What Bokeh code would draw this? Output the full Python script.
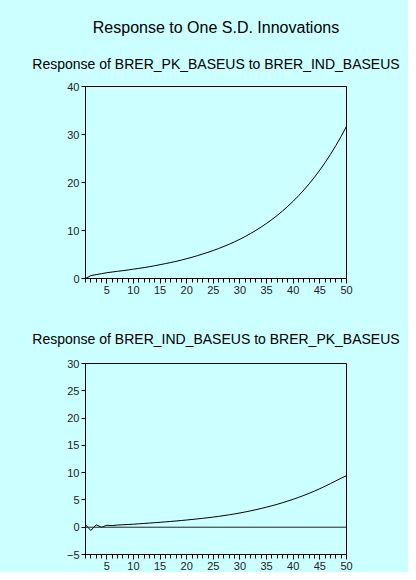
from bokeh.plotting import figure
from bokeh.models import Range1d, FixedTicker, Title, Span, ColumnDataSource
from bokeh.layouts import column
from bokeh.embed import file_html
from bokeh.resources import INLINE

# ---- data ----
periods = list(range(1, 51))

pk_to_ind = [0.00, 0.60, 0.80, 1.00, 1.20, 1.35, 1.50, 1.63, 1.78, 1.95,
             2.10, 2.27, 2.46, 2.66, 2.88, 3.10, 3.33, 3.57, 3.84, 4.13,
             4.43, 4.75, 5.10, 5.46, 5.84, 6.25, 6.69, 7.15, 7.65, 8.19,
             8.76, 9.38, 10.03, 10.74, 11.49, 12.29, 13.15, 14.07, 15.06, 16.11,
             17.24, 18.45, 19.74, 21.12, 22.60, 24.18, 25.88, 27.69, 29.63, 31.70]

ind_to_pk = [0.45, -0.60, 0.45, 0.00, 0.35, 0.30, 0.40, 0.45, 0.50, 0.55,
             0.62, 0.69, 0.76, 0.83, 0.90, 0.98, 1.06, 1.14, 1.23, 1.32,
             1.42, 1.52, 1.63, 1.74, 1.86, 1.99, 2.13, 2.28, 2.44, 2.61,
             2.80, 3.00, 3.21, 3.44, 3.68, 3.93, 4.20, 4.49, 4.80, 5.13,
             5.47, 5.83, 6.22, 6.63, 7.06, 7.52, 8.00, 8.50, 8.98, 9.45]

main_title = "Response to One S.D. Innovations"
panel_titles = ["Response of BRER_PK_BASEUS to BRER_IND_BASEUS",
                "Response of BRER_IND_BASEUS to BRER_PK_BASEUS"]
top_yticks = [0, 10, 20, 30, 40]
bottom_yticks = [-5, 0, 5, 10, 15, 20, 25, 30]
xticks = [5, 10, 15, 20, 25, 30, 35, 40, 45, 50]

BG = "#CCFFFF"
FONT = "Liberation Sans"


def make_panel(values, yr, yticks, height, top, bottom, zero_line):
    p = figure(width=408, height=height,
               x_range=Range1d(periods[0], periods[-1]), y_range=Range1d(*yr),
               output_backend="svg", toolbar_location=None,
               min_border_left=85, min_border_right=62,
               min_border_top=top, min_border_bottom=bottom,
               background_fill_color=BG, border_fill_color=BG,
               outline_line_color="black", outline_line_width=1)
    p.xgrid.visible = False
    p.ygrid.visible = False

    src = ColumnDataSource(data=dict(x=periods, y=values))
    if zero_line:
        p.add_layout(Span(location=0, dimension="width", line_color="#222222", line_width=1))
    p.line("x", "y", source=src, line_color="black", line_width=1)

    for ax in (p.xaxis[0], p.yaxis[0]):
        ax.axis_line_color = "black"
        ax.major_tick_line_color = "black"
        ax.minor_tick_line_color = "black"
        ax.major_tick_in = 0
        ax.minor_tick_in = 0
        ax.major_label_text_font = FONT
        ax.major_label_text_font_size = "11px"
        ax.major_label_text_color = "#222222"
        ax.major_label_standoff = 2
    p.xaxis[0].ticker = FixedTicker(ticks=xticks, minor_ticks=periods)
    p.xaxis[0].major_tick_out = 5
    p.xaxis[0].minor_tick_out = 4
    p.yaxis[0].ticker = FixedTicker(ticks=yticks, minor_ticks=[])
    p.yaxis[0].major_tick_out = 4
    return p


def style_title(t, size, standoff):
    t.text_font = FONT
    t.text_font_size = size
    t.text_font_style = "normal"
    t.text_color = "black"
    t.align = "center"
    t.standoff = standoff


# top panel: main title outermost, panel title next to the frame
p1 = make_panel(pk_to_ind, (0, 40), top_yticks,
                height=300, top=86, bottom=22, zero_line=False)
p1.title.text = main_title
style_title(p1.title, "16px", 6)
sub1 = Title(text=panel_titles[0])
style_title(sub1, "14px", 30)
p1.add_layout(sub1, "above")

p2 = make_panel(ind_to_pk, (-5, 30), bottom_yticks,
                height=272, top=63, bottom=17, zero_line=True)
p2.title.text = panel_titles[1]
style_title(p2.title, "14px", 33)

layout = column(p1, p2, spacing=0, background=BG)

open("out.html", "w").write(file_html(layout, INLINE))
